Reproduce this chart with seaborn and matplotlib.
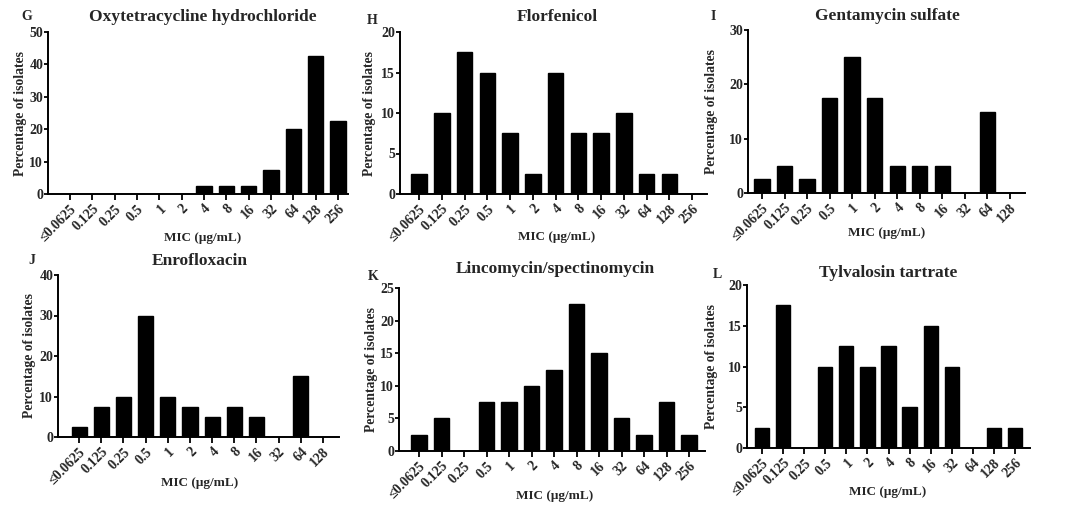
import matplotlib
matplotlib.use("Agg")
import matplotlib.pyplot as plt
import seaborn as sns
import pandas as pd

# ---- data ----
mic13 = ["≤0.0625", "0.125", "0.25", "0.5", "1", "2", "4", "8", "16", "32", "64", "128", "256"]
mic12 = mic13[:12]

oxytetracycline = [0, 0, 0, 0, 0, 0, 2.5, 2.5, 2.5, 7.5, 20, 42.5, 22.5]
florfenicol = [2.5, 10, 17.5, 15, 7.5, 2.5, 15, 7.5, 7.5, 10, 2.5, 2.5, 0]
gentamycin = [2.5, 5, 2.5, 17.5, 25, 17.5, 5, 5, 5, 0, 15, 0]
enrofloxacin = [2.5, 7.5, 10, 30, 10, 7.5, 5, 7.5, 5, 0, 15, 0]
lincomycin = [2.5, 5, 0, 7.5, 7.5, 10, 12.5, 22.5, 15, 5, 2.5, 7.5, 2.5]
tylvalosin = [2.5, 17.5, 0, 10, 12.5, 10, 12.5, 5, 15, 10, 0, 2.5, 2.5]

titles = ["Oxytetracycline hydrochloride", "Florfenicol", "Gentamycin sulfate",
          "Enrofloxacin", "Lincomycin/spectinomycin", "Tylvalosin tartrate"]
letters = ["G", "H", "I", "J", "K", "L"]
ymax = [50, 20, 30, 40, 25, 20]
ystep = [10, 5, 10, 10, 5, 5]

sns.set_style("ticks")
plt.rcParams['font.family'] = ['Liberation Serif', 'DejaVu Serif']
plt.rcParams['font.weight'] = 'bold'
plt.rcParams['axes.labelweight'] = 'bold'

W, H = 1080, 509
fig = plt.figure(figsize=(W / 100, H / 100), dpi=100)
fig.patch.set_facecolor("white")

# layout in pixels: left, right, top, bottom of axes; xlim margins
boxes = [(48, 348, 32, 194, -0.98, 12.45),
         (400, 707, 32, 194, -0.84, 12.66),
         (748, 1025, 30, 193, -0.62, 11.67),
         (58, 339, 275, 437, -0.95, 11.72),
         (399, 705, 288, 451, -0.89, 12.71),
         (747, 1030, 285, 448, -0.71, 12.71)]
title_pos = [(203, 17), (557, 17), (887, 16), (200, 261), (555, 269), (888, 273)]
letter_pos = [(27, 17), (372, 20), (713, 17), (32, 260), (373, 277), (717, 275)]
xlabel_pos = [(203, 238), (557, 237), (887, 233), (200, 483), (555, 496), (888, 492)]
ylabel_x = [21, 369, 712, 30, 371, 711]

datasets = [(mic13, oxytetracycline), (mic13, florfenicol), (mic12, gentamycin),
            (mic12, enrofloxacin), (mic13, lincomycin), (mic13, tylvalosin)]

for i, ((cats, vals), (l, r, t, b, x0, x1)) in enumerate(zip(datasets, boxes)):
    ax = fig.add_axes([l / W, 1 - b / H, (r - l) / W, (b - t) / H])
    df = pd.DataFrame({"MIC": cats, "pct": vals})
    sns.barplot(data=df, x="MIC", y="pct", order=cats, color="black",
                saturation=1, width=0.68, ax=ax, edgecolor="black")
    ax.set_xlim(x0, x1)
    ax.set_ylim(0, ymax[i])
    ax.set_yticks(range(0, ymax[i] + 1, ystep[i]))
    ax.set_xticks(range(len(cats)))
    ax.set_xticklabels(cats, rotation=45, ha="right", rotation_mode="anchor",
                       fontsize=10, fontweight="bold")
    for lab in ax.get_yticklabels():
        lab.set_fontsize(10)
        lab.set_fontweight("bold")
    ax.set_ylabel("Percentage of isolates", fontsize=9.8, fontweight="bold")
    ax.set_xlabel("MIC (μg/mL)", fontsize=9.5, fontweight="bold")
    aw, ah = r - l, b - t
    xl, yl = xlabel_pos[i]
    ax.xaxis.set_label_coords((xl - l) / aw, (b - yl) / ah)
    ax.xaxis.label.set_va("center")
    ax.yaxis.set_label_coords((ylabel_x[i] - l) / aw, 0.5)
    ax.yaxis.label.set_va("center")
    sns.despine(ax=ax)
    for s in ["left", "bottom"]:
        ax.spines[s].set_linewidth(1.4)
        ax.spines[s].set_color("black")
    ax.tick_params(axis="y", direction="out", length=3, width=1.3, color="black", pad=0.5)
    ax.tick_params(axis="x", direction="out", length=4, width=1.3, color="black", pad=2)
    ax.set_facecolor("white")
    tx, ty = title_pos[i]
    fig.text(tx / W, 1 - ty / H, titles[i], ha="center", va="center",
             fontsize=12.5, fontweight="bold")
    lx, ly = letter_pos[i]
    fig.text(lx / W, 1 - ly / H, letters[i], ha="center", va="center",
             fontsize=10, fontweight="bold")

fig.savefig("out.png", dpi=100, facecolor="white")
